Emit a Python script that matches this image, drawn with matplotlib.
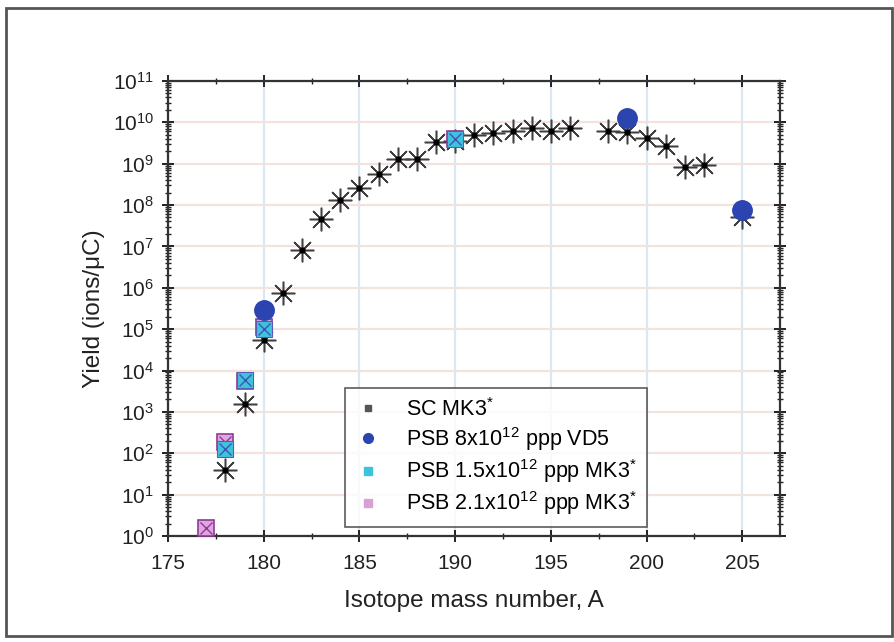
import numpy as np
import matplotlib
matplotlib.use('Agg')
import matplotlib.pyplot as plt
from matplotlib.ticker import MultipleLocator, LogLocator, NullFormatter
from matplotlib.patches import Rectangle

plt.rcParams['font.family'] = ['Liberation Sans', 'DejaVu Sans']
plt.rcParams['mathtext.fontset'] = 'custom'
plt.rcParams['mathtext.rm'] = 'Liberation Sans'

# SC MK3* yields
sc_mass = [178, 179, 180, 181, 182, 183, 184, 185, 186, 187, 188, 189, 190, 191, 192, 193, 194, 195, 196,
           198, 199, 200, 201, 202, 203, 205]
sc_yield = [40, 1.55e3, 5.4e4, 7.4e5, 8.1e6, 4.5e7, 1.3e8, 2.6e8, 5.5e8, 1.3e9, 1.3e9, 3.3e9, 3.6e9, 4.9e9,
            5.5e9, 6.1e9, 7.2e9, 6.1e9, 7.2e9, 6.1e9, 5.8e9, 4.1e9, 2.6e9, 8.2e8, 9.2e8, 5.0e7]

# PSB 8x10^12 ppp VD5
vd5_mass = [180, 199, 205]
vd5_yield = [2.9e5, 1.26e10, 7.5e7]

# PSB 1.5x10^12 ppp MK3*
mk15_mass = [178, 179, 180, 190]
mk15_yield = [125, 5.9e3, 1.0e5, 3.9e9]

# PSB 2.1x10^12 ppp MK3*
mk21_mass = [177, 178, 179, 180, 190]
mk21_yield = [1.6, 190, 5.5e3, 1.1e5, 3.9e9]

fig = plt.figure(figsize=(8.94, 6.42), dpi=100)
ax = fig.add_axes([0.188, 0.165, 0.685, 0.709])

# frame round the whole picture
fig.patches.append(Rectangle((6 / 894, 6 / 642), 886 / 894, 628 / 642, transform=fig.transFigure,
                             fill=False, edgecolor='#555555', linewidth=2))

ax.set_yscale('log')
ax.set_xlim(175, 207)
ax.set_ylim(1, 1e11)

# grid
for xv in range(175, 210, 5):
    ax.axvline(xv, color='#dbe7f3', lw=1.6, zorder=0)
for e in range(0, 12):
    ax.axhline(10.0 ** e, color='#f3e3df', lw=1.6, zorder=0)

# SC: asterisk with black centre
ax.plot(sc_mass, sc_yield, ls='none', marker=(8, 2, 0), ms=17, mec='#404040', mew=1.1, zorder=3)
ax.plot(sc_mass, sc_yield, ls='none', marker='o', ms=3.5, mfc='black', mec='black', zorder=3)

ax.plot(mk21_mass, mk21_yield, ls='none', marker='s', ms=12, mfc='#e2a6de', mec='#8e3b96', mew=1.2, zorder=4)
ax.plot(mk21_mass, mk21_yield, ls='none', marker='x', ms=9, mec='#8e3b96', mew=1.0, zorder=4)
ax.plot(mk15_mass, mk15_yield, ls='none', marker='s', ms=11, mfc='#3ec3dd', mec='#5a5ab8', mew=0.8, zorder=5)
ax.plot(mk15_mass, mk15_yield, ls='none', marker='x', ms=8, mec='#3f55b5', mew=1.0, zorder=5)

ax.plot(vd5_mass, vd5_yield, ls='none', marker='o', ms=14, mfc='#2b44b0', mec='#2b44b0', zorder=6)

# legend handles
h1, = ax.plot([], [], ls='none', marker='s', ms=5, color='#555555')
h2, = ax.plot([], [], ls='none', marker='o', ms=7, color='#2b44b0')
h3, = ax.plot([], [], ls='none', marker='s', ms=6, color='#3ec3dd')
h4, = ax.plot([], [], ls='none', marker='s', ms=6, color='#d9a0d6')
leg = ax.legend([h1, h2, h3, h4],
                ['SC MK3$^{*}$', 'PSB 8x10$^{12}$ ppp VD5', 'PSB 1.5x10$^{12}$ ppp MK3$^{*}$',
                 'PSB 2.1x10$^{12}$ ppp MK3$^{*}$'],
                loc='upper left', bbox_to_anchor=(0.289, 0.325), fontsize=15.5, frameon=True,
                fancybox=False, edgecolor='#333333', handlelength=1.2, handletextpad=1.2,
                borderpad=0.45, labelspacing=0.2, borderaxespad=0)
leg.get_frame().set_linewidth(1.2)
leg.set_zorder(10)

ax.xaxis.set_major_locator(MultipleLocator(5))
ax.xaxis.set_minor_locator(MultipleLocator(2.5))
ax.yaxis.set_major_locator(LogLocator(base=10, numticks=20))
ax.yaxis.set_minor_locator(LogLocator(base=10, subs=np.arange(2, 10), numticks=20))
ax.yaxis.set_minor_formatter(NullFormatter())

ax.tick_params(which='both', direction='inout', top=True, right=True, colors='#222222', labelsize=15)
ax.tick_params(which='major', length=8, width=1.4)
ax.tick_params(which='minor', length=4, width=1.0)
ax.tick_params(axis='x', which='major', pad=9)
ax.tick_params(axis='y', which='major', pad=6)
for s in ax.spines.values():
    s.set_linewidth(1.6)
    s.set_color('#333333')

ax.set_xlabel('Isotope mass number, A', fontsize=17.5, color='#222222', labelpad=12)
ax.set_ylabel('Yield (ions/μC)', fontsize=17.5, color='#222222', labelpad=6)

fig.savefig('out.png', dpi=100)
